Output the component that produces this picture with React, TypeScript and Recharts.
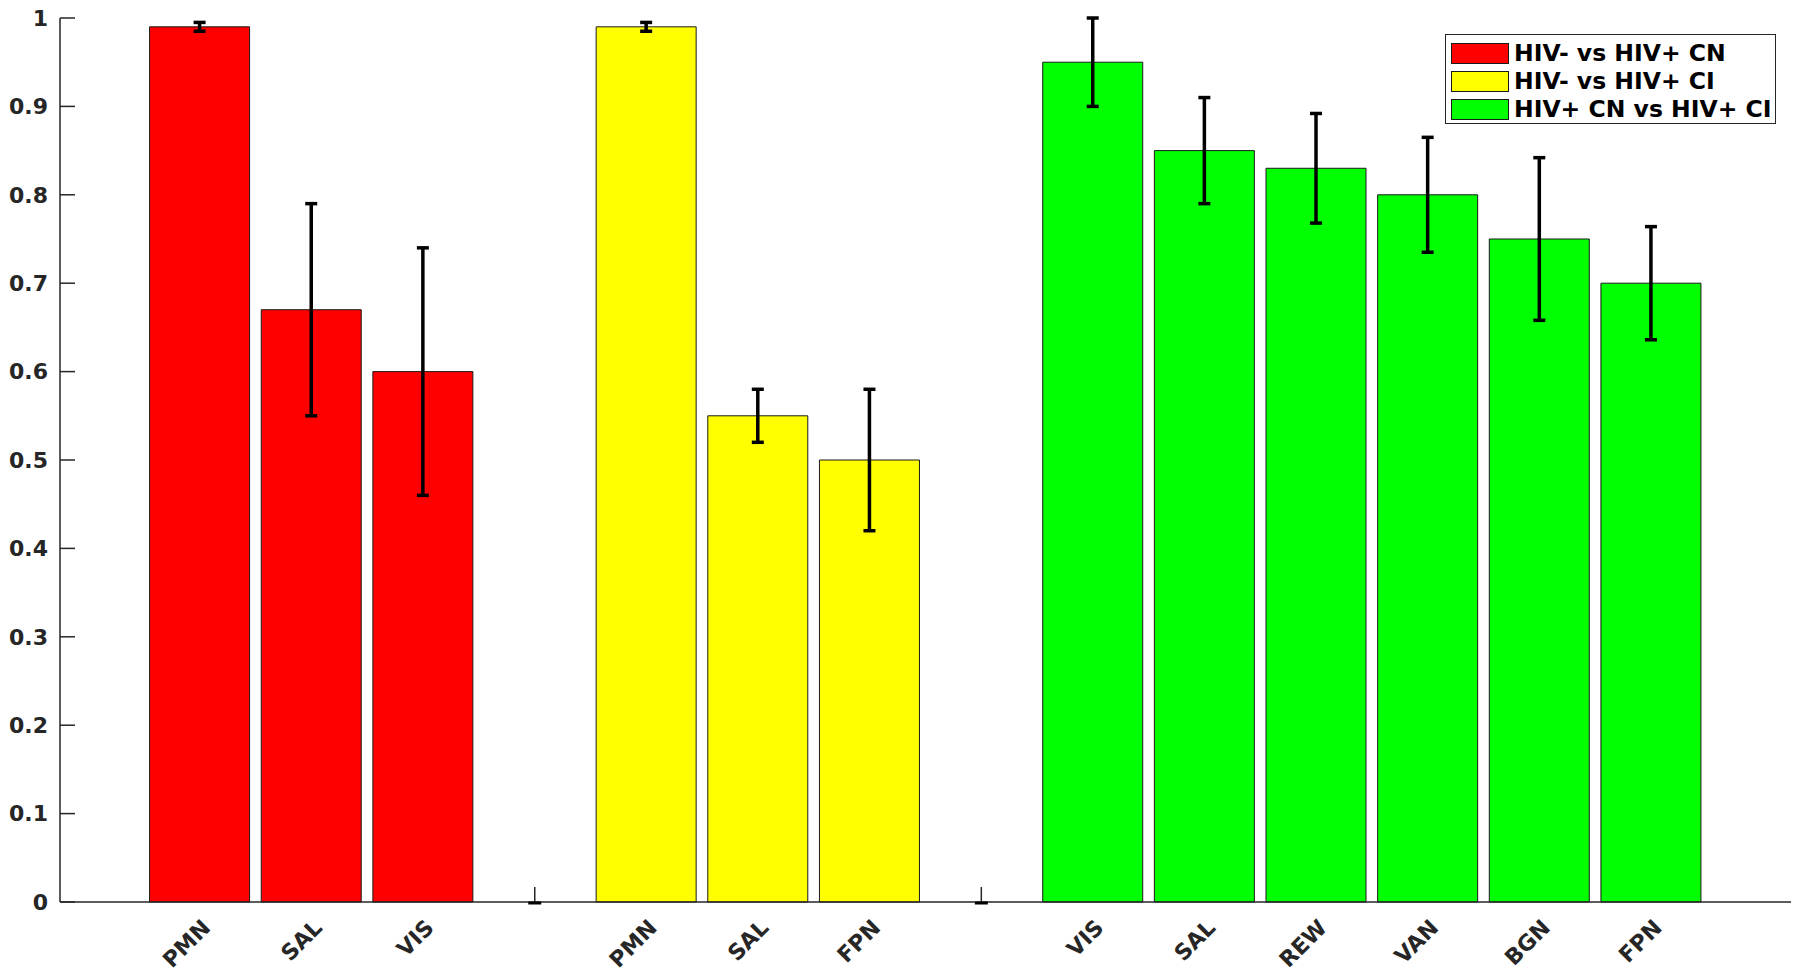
import React from 'react';
import { BarChart, Bar, XAxis, YAxis, ErrorBar, Cell } from 'recharts';

const categories = ['PMN', 'SAL', 'VIS', '', 'PMN', 'SAL', 'FPN', '', 'VIS', 'SAL', 'REW', 'VAN', 'BGN', 'FPN'];
const groupIndex = [0, 0, 0, -1, 1, 1, 1, -1, 2, 2, 2, 2, 2, 2];
const values = [0.99, 0.67, 0.6, 0, 0.99, 0.55, 0.5, 0, 0.95, 0.85, 0.83, 0.8, 0.75, 0.7];
const errors = [0.005, 0.12, 0.14, 0, 0.005, 0.03, 0.08, 0, 0.05, 0.06, 0.062, 0.065, 0.092, 0.064];
const seriesNames = ['HIV- vs HIV+ CN', 'HIV- vs HIV+ CI', 'HIV+ CN vs HIV+ CI'];
const seriesColors = ['#ff0000', '#ffff00', '#00ff00'];
const yTicks = [0, 0.1, 0.2, 0.3, 0.4, 0.5, 0.6, 0.7, 0.8, 0.9, 1];

const data = categories.map((label, i) => ({
  key: `c${i}`,
  label,
  group: groupIndex[i],
  value: values[i],
  err: errors[i],
}));

const FONT = '"DejaVu Sans", sans-serif';
const AXIS = '#262626';
const TICK_LEN = 15;
const TICK_MARGIN = 39;

const XTick = (props: any) => {
  const { x, y, payload, index } = props;
  const i = index ?? payload.index;
  const label = categories[i] ?? '';
  const axisY = y - TICK_MARGIN + TICK_LEN;
  if (!label) {
    // inward tick mark visible in the empty gap slots, plus the zero-length error bar cap
    return (
      <g>
        <line x1={x} x2={x} y1={axisY} y2={axisY - TICK_LEN} stroke={AXIS} strokeWidth={1.5} />
        <line x1={x - 6.5} x2={x + 6.5} y1={axisY + 1} y2={axisY + 1} stroke="#000" strokeWidth={3} />
      </g>
    );
  }
  const ax = x + 12;
  const ay = y + 3;
  return (
    <text
      x={ax}
      y={ay}
      textAnchor="end"
      transform={`rotate(-45 ${ax} ${ay})`}
      fontFamily={FONT}
      fontWeight="bold"
      fontSize={22}
      fill={AXIS}
    >
      {label}
    </text>
  );
};

const LegendBox = () => (
  <div
    style={{
      position: 'absolute',
      left: 1445,
      top: 34,
      width: 331,
      height: 90,
      border: `1.5px solid ${AXIS}`,
      background: '#fff',
      boxSizing: 'border-box',
      paddingTop: 4,
      paddingLeft: 5,
      fontFamily: FONT,
      fontWeight: 'bold',
      fontSize: 23.5,
      color: '#000',
    }}
  >
    {seriesNames.map((name, i) => (
      <div key={name} style={{ display: 'flex', alignItems: 'center', height: 28.2 }}>
        <div
          style={{
            width: 58,
            height: 21,
            background: seriesColors[i],
            border: '1px solid #1a1a1a',
            boxSizing: 'border-box',
            marginRight: 5,
          }}
        />
        <span style={{ lineHeight: '24px', whiteSpace: 'nowrap' }}>{name}</span>
      </div>
    ))}
  </div>
);

export default function App() {
  return (
    <div style={{ position: 'relative', width: 1800, height: 976, marginTop: -8, marginLeft: -8 }}>
      <BarChart
        width={1800}
        height={976}
        data={data}
        margin={{ top: 18, right: 9, bottom: 0, left: 0 }}
        barCategoryGap="5%"
      >
        <XAxis
          dataKey="key"
          type="category"
          height={74}
          padding={{ left: 84, right: 84 }}
          axisLine={{ stroke: AXIS, strokeWidth: 1.5 }}
          tickLine={false}
          tickSize={-TICK_LEN}
          tickMargin={TICK_MARGIN}
          tick={<XTick />}
          interval={0}
        />
        <YAxis
          type="number"
          domain={[0, 1]}
          ticks={yTicks}
          width={60}
          axisLine={{ stroke: AXIS, strokeWidth: 1.5 }}
          tickLine={{ stroke: AXIS, strokeWidth: 1.5 }}
          tickSize={-TICK_LEN}
          tickMargin={27}
          tick={{ fontFamily: FONT, fontWeight: 'bold', fontSize: 22, fill: AXIS }}
          tickFormatter={(v: number) => String(v)}
          interval={0}
        />
        <Bar dataKey="value" isAnimationActive={false} stroke="#1a1a1a" strokeWidth={1}>
          {data.map((d) => (
            <Cell key={d.key} fill={d.group >= 0 ? seriesColors[d.group] : 'none'} />
          ))}
          <ErrorBar dataKey="err" width={6} stroke="#000" strokeWidth={3.5} direction="y" />
        </Bar>
      </BarChart>
      <LegendBox />
    </div>
  );
}
